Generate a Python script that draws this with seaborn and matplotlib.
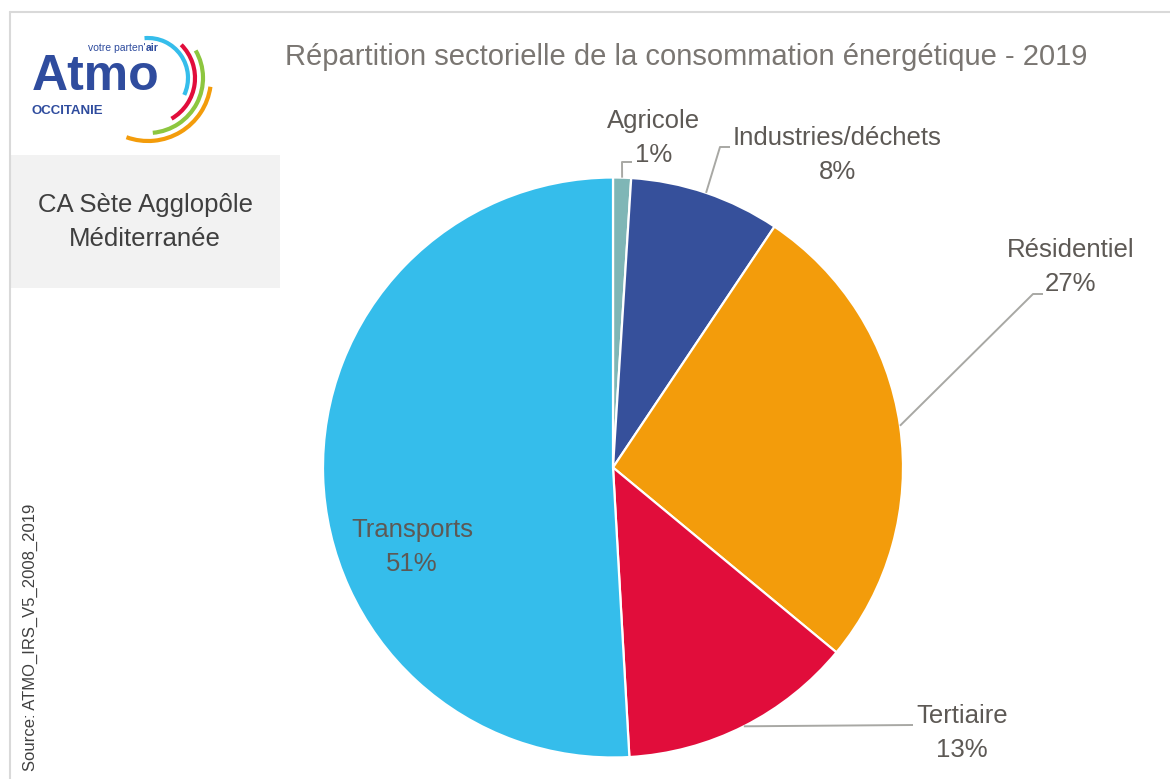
import matplotlib.pyplot as plt
import numpy as np
import seaborn as sns
from matplotlib.font_manager import fontManager
from matplotlib.patches import Arc, Rectangle

# données (part de la consommation, %)
sectors = ["Agricole", "Industries/déchets", "Résidentiel", "Tertiaire", "Transports"]
shares = [1.0, 8.4, 26.6, 13.1, 50.9]
pct_labels = ["1%", "8%", "27%", "13%", "51%"]
sector_colors = ["#7fb6b6", "#36509b", "#f39c0b", "#e10d3b", "#35bdeb"]

title = "Répartition sectorielle de la consommation énergétique - 2019"
territory = "CA Sète Agglopôle\nMéditerranée"
source = "Source: ATMO_IRS_V5_2008_2019"

W, H = 1170, 779

sns.set_theme(style="white")
installed = {f.name for f in fontManager.ttflist}
narrow = [f for f in ["Liberation Sans Narrow", "Liberation Sans", "DejaVu Sans"] if f in installed]
plt.rcParams["font.family"] = narrow

fig = plt.figure(figsize=(W / 100, H / 100), dpi=100)
ax = fig.add_axes([0, 0, 1, 1])


def py(y):
    # coordonnée image (origine en haut) -> coordonnée axe
    return H - y


# camembert
cx, cy, r = 613, py(467.5), 290
wedges, _ = ax.pie(
    shares,
    colors=sector_colors,
    startangle=90,
    counterclock=False,
    center=(cx, cy),
    radius=r,
    frame=True,
    wedgeprops=dict(edgecolor="white", linewidth=1.6),
)
ax.set_xlim(0, W)
ax.set_ylim(0, H)
ax.set_aspect("equal")
ax.axis("off")

# cadre
border = "#d9d9d9"
ax.plot([10, W], [py(12), py(12)], color=border, lw=1.5)
ax.plot([10, 10], [py(12), 0], color=border, lw=1.5)

label_color = "#5d5955"
lead_color = "#a8a8a4"
label_pos = {
    "Agricole": (654, 138),
    "Industries/déchets": (837, 155),
    "Résidentiel": (1071, 267),
    "Tertiaire": (962, 733),
    "Transports": (412, 547),
}
elbows = {
    "Agricole": [(622, 162), (632, 162)],
    "Industries/déchets": [(720, 147), (730, 147)],
    "Résidentiel": [(1033, 294), (1043, 294)],
    "Tertiaire": [(913, 725)],
}

for w, name, pct in zip(wedges, sectors, pct_labels):
    mid = np.deg2rad((w.theta1 + w.theta2) / 2)
    ax0, ay0 = cx + r * np.cos(mid), cy + r * np.sin(mid)
    if name in elbows:
        xs = [ax0] + [p[0] for p in elbows[name]]
        ys = [ay0] + [py(p[1]) for p in elbows[name]]
        ax.plot(xs, ys, color=lead_color, lw=1.4, solid_capstyle="butt")
    tx, ty = label_pos[name]
    ax.text(tx, py(ty), f"{name}\n{pct}", ha="center", va="center",
            fontsize=18.5, color=label_color, linespacing=1.5)

# titre
ax.text(686, py(57), title, ha="center", va="center", fontsize=21, color="#7a7672")

# encadré territoire
ax.add_patch(Rectangle((10, py(288)), 270, 133, facecolor="#f2f2f2", edgecolor="none"))
ax.text(145, py(222), territory, ha="center", va="center", fontsize=18.5,
        color="#3f3f3f", linespacing=1.5)

# source
ax.text(30, py(637), source, ha="center", va="center", rotation=90,
        fontsize=12, color="#404040")

# logo Atmo Occitanie
blue = "#2f4c9e"
logo_font = ["Liberation Sans", "DejaVu Sans"]
ax.text(32, py(90), "Atmo", fontsize=36, fontweight="bold", color=blue,
        ha="left", va="baseline", family=logo_font)
ax.text(88, py(51), "votre parten'", fontsize=7.5, color=blue, ha="left",
        va="baseline", family=logo_font)
ax.text(146, py(51), "air", fontsize=7.5, fontweight="bold", color=blue, ha="left",
        va="baseline", family=logo_font)
ax.text(32, py(114), "OCCITANIE", fontsize=9.5, fontweight="bold", color=blue,
        ha="left", va="baseline", family=logo_font)
arcs = [
    ("#35bdeb", 40, -25, 95),
    ("#e10d3b", 47, -60, 45),
    ("#8dc63f", 55, -85, 30),
    ("#f39c0b", 63, -110, -8),
]
for col, rad, t1, t2 in arcs:
    ax.add_patch(Arc((148, py(78)), 2 * rad, 2 * rad, theta1=t1, theta2=t2,
                     color=col, lw=3))

fig.savefig("out.png", dpi=100)
plt.close(fig)
